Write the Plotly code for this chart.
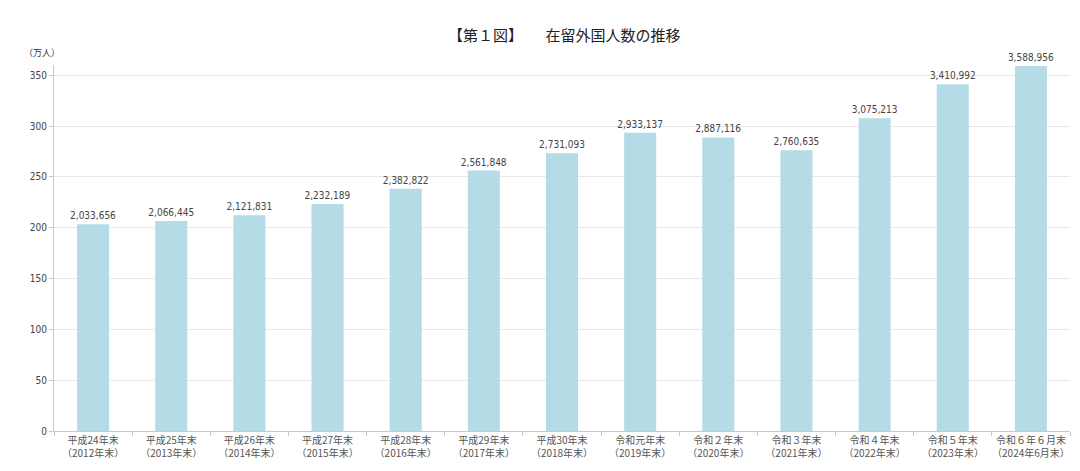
import plotly.graph_objects as go

categories = [
    "平成24年末<br>（2012年末）", "平成25年末<br>（2013年末）", "平成26年末<br>（2014年末）",
    "平成27年末<br>（2015年末）", "平成28年末<br>（2016年末）", "平成29年末<br>（2017年末）",
    "平成30年末<br>（2018年末）", "令和元年末<br>（2019年末）", "令和２年末<br>（2020年末）",
    "令和３年末<br>（2021年末）", "令和４年末<br>（2022年末）", "令和５年末<br>（2023年末）",
    "令和６年６月末<br>（2024年6月末）",
]
residents = [2033656, 2066445, 2121831, 2232189, 2382822, 2561848, 2731093,
             2933137, 2887116, 2760635, 3075213, 3410992, 3588956]
values_man = [v / 10000 for v in residents]
labels = ["{:,}".format(v) for v in residents]
y_ticks = [0, 50, 100, 150, 200, 250, 300, 350]

font_main = "Noto Sans CJK JP"

fig = go.Figure(go.Bar(
    x=categories, y=values_man, text=labels, textposition="outside",
    constraintext="none",
    textfont=dict(family="DejaVu Sans Condensed", size=10, color="#444444"),
    marker=dict(color="#b5dbe6", line=dict(width=0)),
    width=0.41, cliponaxis=False,
))

fig.update_layout(
    width=1072, height=463,
    paper_bgcolor="white", plot_bgcolor="white",
    margin=dict(l=46, r=10, t=57, b=40),
    showlegend=False,
    title=dict(text="【第１図】　　在留外国人数の推移", x=0.519, xanchor="center",
               y=0.94, yanchor="middle",
               font=dict(family=font_main, size=15, color="#222222")),
    font=dict(family=font_main, color="#444444"),
    xaxis=dict(
        type="category", showgrid=False, showline=True, linecolor="#c8c8c8", linewidth=1,
        ticks="outside", tickson="boundaries", ticklen=4, tickcolor="#c8c8c8",
        tickangle=0, automargin=False,
        tickfont=dict(family=font_main, size=10, color="#555555"),
        range=[-0.5, 12.5],
    ),
    yaxis=dict(
        range=[0, 360], tickvals=y_ticks, showgrid=True, gridcolor="#e8e8e8",
        showline=True, linecolor="#c8c8c8", linewidth=1, ticks="outside", ticklen=4,
        tickcolor="#c8c8c8", zeroline=False, automargin=False,
        tickfont=dict(family="DejaVu Sans Condensed", size=10, color="#444444"),
    ),
    annotations=[dict(text="（万人）", xref="paper", yref="paper", x=-0.012, y=1.012,
                      xanchor="center", yanchor="bottom", showarrow=False,
                      font=dict(family=font_main, size=9, color="#333333"))],
)

fig.write_html("out.html")
